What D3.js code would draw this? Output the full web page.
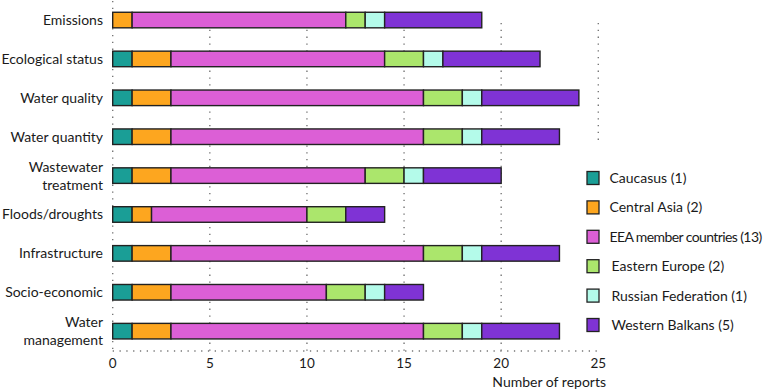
<!DOCTYPE html>
<html>
<head>
<meta charset="utf-8">
<script src="https://cdn.jsdelivr.net/npm/d3@7"></script>
<style>
  body { margin: 0; background: #fff; }
  svg text { font-family: Lato, "Open Sans", sans-serif; fill: #1a1a1a; }
</style>
</head>
<body>
<div id="chart"></div>
<script>
// categories (top to bottom) and series, one value per category
let categories = ["Emissions", "Ecological status", "Water quality", "Water quantity",
  "Wastewater treatment", "Floods/droughts", "Infrastructure", "Socio-economic", "Water management"]
let caucasus     = [0, 1, 1, 1, 1, 1, 1, 1, 1]
let centralAsia  = [1, 2, 2, 2, 2, 1, 2, 2, 2]
let eeaMembers   = [11, 11, 13, 13, 10, 8, 13, 8, 13]
let easternEurope= [1, 2, 2, 2, 2, 2, 2, 2, 2]
let russianFed   = [1, 1, 1, 1, 1, 0, 1, 1, 1]
let westBalkans  = [5, 5, 5, 4, 4, 2, 4, 2, 4]
let seriesNames = ["Caucasus (1)", "Central Asia (2)", "EEA member countries (13)",
  "Eastern Europe (2)", "Russian Federation (1)", "Western Balkans (5)"]
let xTicks = [0, 5, 10, 15, 20, 25]

let colors = ["#1a9e96", "#fda61f", "#dc5fd6", "#abe66c", "#b4fbea", "#7f33d5"]
let series = [caucasus, centralAsia, eeaMembers, easternEurope, russianFed, westBalkans]

// table for d3.stack
let rows = categories.map((c, i) => {
  let r = { cat: c }
  seriesNames.forEach((s, j) => r[s] = series[j][i])
  return r
})
let stacked = d3.stack().keys(seriesNames)(rows)

let width = 768, height = 392
let svg = d3.select("#chart").append("svg").attr("width", width).attr("height", height)

let xScale = d3.scaleLinear().domain([0, 25]).range([112.7, 598.3])
let yScale = d3.scaleBand().domain(categories).range([0.6, 350.6]).paddingInner(0.6).paddingOuter(0.3)
let axisY = 351

// dotted gridlines
let dots = "1.3,5.5"
svg.append("g").selectAll("line").data(xTicks).enter().append("line")
  .attr("x1", d => xScale(d)).attr("x2", d => xScale(d))
  .attr("y1", d => d == 0 ? 1 : 23)
  .attr("y2", d => d == 25 ? 141 : axisY)
  .attr("stroke", "#777").attr("stroke-width", 1.4).attr("stroke-dasharray", dots)
svg.append("line").attr("x1", xScale(0)).attr("x2", xScale(25)).attr("y1", axisY).attr("y2", axisY)
  .attr("stroke", "#777").attr("stroke-width", 1.4).attr("stroke-dasharray", dots)

// bars
let layer = svg.append("g").selectAll("g").data(stacked).enter().append("g")
  .attr("fill", (d, i) => colors[i])
layer.selectAll("rect").data(d => d.filter(p => p[1] > p[0])).enter().append("rect")
  .attr("x", d => xScale(d[0]))
  .attr("width", d => xScale(d[1]) - xScale(d[0]))
  .attr("y", d => yScale(d.data.cat))
  .attr("height", yScale.bandwidth())
  .attr("stroke", "#222").attr("stroke-width", 1.4)

// category labels
let labelG = svg.append("g")
categories.forEach(c => {
  let parts = c == "Wastewater treatment" ? ["Wastewater", "treatment"]
    : c == "Water management" ? ["Water", "management"] : [c]
  let cy = yScale(c) + yScale.bandwidth() / 2
  let t = labelG.append("text").attr("text-anchor", "end").attr("font-size", 14)
  parts.forEach((p, k) => {
    t.append("tspan").attr("x", 103)
      .attr("y", cy + 5 + (k - (parts.length - 1) / 2) * 18)
      .text(p)
  })
})

// x tick labels
svg.append("g").selectAll("text").data(xTicks).enter().append("text")
  .attr("x", d => xScale(d)).attr("y", 368).attr("text-anchor", "middle")
  .attr("font-size", 13.5).text(d => d)
svg.append("text").attr("x", 606).attr("y", 387).attr("text-anchor", "end")
  .attr("font-size", 14).text("Number of reports")

// legend
let legend = svg.append("g").attr("id", "legend")
seriesNames.forEach((s, i) => {
  let y = 178 + i * 29.4
  legend.append("rect").attr("x", 587).attr("y", y - 6.5).attr("width", 12).attr("height", 13)
    .attr("fill", colors[i]).attr("stroke", "#222").attr("stroke-width", 1.3)
  let t = legend.append("text").attr("x", i < 3 ? 609.5 : 611.5).attr("y", y + 5)
    .attr("font-size", 14).text(s)
  // the long label is set tighter in the original
  if (i == 2) t.attr("letter-spacing", -0.6)
})
</script>
</body>
</html>
